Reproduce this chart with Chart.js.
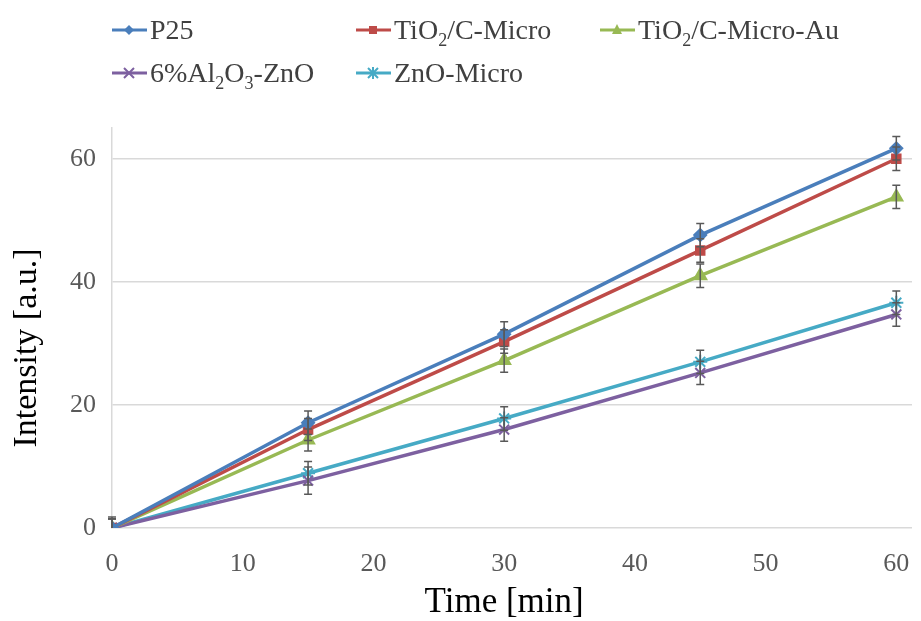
<!DOCTYPE html>
<html>
<head>
<meta charset="utf-8">
<script src="https://cdn.jsdelivr.net/npm/chart.js@4/dist/chart.umd.min.js"></script>
<style>
html,body{margin:0;background:#fff;overflow:hidden;}
#wrap{position:relative;width:921px;height:621px;}
#legend{position:absolute;left:0;top:0;width:921px;height:100px;font-family:"Liberation Serif",serif;font-size:28px;color:#404040;}
.item{position:absolute;display:flex;align-items:center;white-space:nowrap;}
.item svg{margin-right:3px;}
sub{font-size:18px;vertical-align:-7px;line-height:0;}
</style>
</head>
<body>
<div id="wrap">
<canvas id="chart" width="921" height="621"></canvas>
<div id="legend"></div>
</div>
<script>
// 数据
var times = [0, 15, 30, 45, 60];
var p25 = [0, 17.1, 31.5, 47.6, 61.7];
var tioMicro = [0, 16.0, 30.3, 45.1, 60.0];
var tioAu = [0, 14.3, 27.2, 41.0, 53.8];
var alZno = [0, 7.7, 16.0, 25.2, 34.7];
var znoMicro = [0, 8.9, 17.8, 27.0, 36.6];
var p25Err = [1.8, 1.9, 2.0, 1.9, 1.9];
var tioMicroErr = [1.5, 1.8, 1.9, 1.9, 1.9];
var tioAuErr = [1.5, 1.8, 1.9, 1.9, 1.9];
var alZnoErr = [1.5, 2.2, 1.9, 1.9, 1.9];
var znoMicroErr = [1.5, 1.9, 1.9, 1.9, 1.9];
var yTicks = [0, 20, 40, 60];
var xTicks = [0, 10, 20, 30, 40, 50, 60];

var series = [
    {label: "P25", html: "P25", y: p25, err: p25Err, color: "#4a7ebb", pt: "rectRot", r: 6},
    {label: "TiO2/C-Micro", html: "TiO<sub>2</sub>/C-Micro", y: tioMicro, err: tioMicroErr, color: "#be4b48", pt: "rect", r: 6},
    {label: "TiO2/C-Micro-Au", html: "TiO<sub>2</sub>/C-Micro-Au", y: tioAu, err: tioAuErr, color: "#98b954", pt: "triangle", r: 7},
    {label: "6%Al2O3-ZnO", html: "6%Al<sub>2</sub>O<sub>3</sub>-ZnO", y: alZno, err: alZnoErr, color: "#7d60a0", pt: "crossRot", r: 7},
    {label: "ZnO-Micro", html: "ZnO-Micro", y: znoMicro, err: znoMicroErr, color: "#46aac5", pt: "star", r: 7}
];

function toPoints(ys){
    return times.map(function(t, i){ return {x: t, y: ys[i]}; });
}

var datasets = series.map(function(s){
    return {
        label: s.label,
        data: toPoints(s.y),
        errors: s.err,
        borderColor: s.color,
        backgroundColor: s.color,
        borderWidth: 3.5,
        pointStyle: s.pt,
        pointRadius: s.r,
        pointBorderWidth: 2,
        pointBorderColor: s.color,
        pointBackgroundColor: s.color,
        tension: 0
    };
});

// 误差线
var errorBars = {
    id: "errorBars",
    afterDatasetsDraw: function(chart){
        var ctx = chart.ctx, xs = chart.scales.x, ys = chart.scales.y;
        ctx.save();
        ctx.strokeStyle = "#595959";
        ctx.lineWidth = 1.5;
        chart.data.datasets.forEach(function(ds){
            ds.data.forEach(function(p, i){
                var e = ds.errors[i];
                var px = xs.getPixelForValue(p.x);
                var top = ys.getPixelForValue(p.y + e);
                var bot = ys.getPixelForValue(Math.max(p.y - e, ys.min));
                ctx.beginPath();
                ctx.moveTo(px, top); ctx.lineTo(px, bot);
                ctx.moveTo(px - 4, top); ctx.lineTo(px + 4, top);
                if (p.y - e >= ys.min) { ctx.moveTo(px - 4, bot); ctx.lineTo(px + 4, bot); }
                ctx.stroke();
            });
        });
        ctx.restore();
    }
};

// 坐标轴标题
var axisTitles = {
    id: "axisTitles",
    afterDraw: function(chart){
        var ctx = chart.ctx, xs = chart.scales.x, ys = chart.scales.y;
        ctx.save();
        ctx.fillStyle = "#000";
        ctx.font = "35px 'Liberation Serif'";
        ctx.textAlign = "center";
        ctx.textBaseline = "middle";
        var xc = (xs.getPixelForValue(xTicks[0]) + xs.getPixelForValue(xTicks[xTicks.length - 1])) / 2;
        ctx.fillText("Time [min]", xc, 603);
        ctx.translate(27, (ys.top + ys.bottom) / 2 + 20);
        ctx.rotate(-Math.PI / 2);
        ctx.font = "34px 'Liberation Serif'";
        ctx.fillText("Intensity [a.u.]", 0, 0);
        ctx.restore();
    }
};

var ctx = document.getElementById("chart");
var myChart = new Chart(ctx, {
    type: "line",
    data: {datasets: datasets},
    plugins: [errorBars, axisTitles],
    options: {
        responsive: false,
        animation: false,
        layout: {padding: {top: 128, right: 0, left: 0, bottom: 0}},
        plugins: {legend: {display: false}, tooltip: {enabled: false}},
        scales: {
            x: {
                type: "linear",
                min: 0,
                max: 61.2,
                afterBuildTicks: function(scale){ scale.ticks = xTicks.map(function(v){ return {value: v}; }); },
                grid: {display: true, drawOnChartArea: false, drawTicks: true, tickLength: 21, tickColor: "rgba(0,0,0,0)"},
                border: {display: false},
                ticks: {padding: 0, color: "#595959", font: {family: "Liberation Serif", size: 26}},
                afterFit: function(scale){ scale.height = 93; }
            },
            y: {
                min: 0,
                max: 65,
                afterBuildTicks: function(scale){ scale.ticks = yTicks.map(function(v){ return {value: v}; }); },
                grid: {color: "#d9d9d9", lineWidth: 1.5, drawTicks: false},
                border: {display: true, color: "#d9d9d9", width: 1.5},
                ticks: {padding: 16, color: "#595959", font: {family: "Liberation Serif", size: 26}},
                afterFit: function(scale){ scale.width = 112; }
            }
        }
    }
});

// 图例
var legendPos = [[112, 30], [356, 30], [600, 30], [112, 73], [356, 73]];
var lg = document.getElementById("legend");
series.forEach(function(s, i){
    var d = document.createElement("div");
    d.className = "item";
    d.style.left = legendPos[i][0] + "px";
    d.style.top = (legendPos[i][1] - 16) + "px";
    var mk = "";
    var c = s.color;
    if (s.pt === "rectRot") mk = '<polygon points="17,11 22,16 17,21 12,16" fill="' + c + '"/>';
    if (s.pt === "rect") mk = '<rect x="13" y="12" width="8" height="8" fill="' + c + '"/>';
    if (s.pt === "triangle") mk = '<polygon points="17,10 22,20 12,20" fill="' + c + '"/>';
    if (s.pt === "crossRot") mk = '<path d="M12,11 L22,21 M22,11 L12,21" stroke="' + c + '" stroke-width="2"/>';
    if (s.pt === "star") mk = '<path d="M12,11 L22,21 M22,11 L12,21 M17,10 L17,22" stroke="' + c + '" stroke-width="2"/>';
    d.innerHTML = '<svg width="35" height="32"><line x1="0" y1="16" x2="35" y2="16" stroke="' + c + '" stroke-width="3"/>' + mk + '</svg><span>' + s.html + '</span>';
    lg.appendChild(d);
});
</script>
</body>
</html>
